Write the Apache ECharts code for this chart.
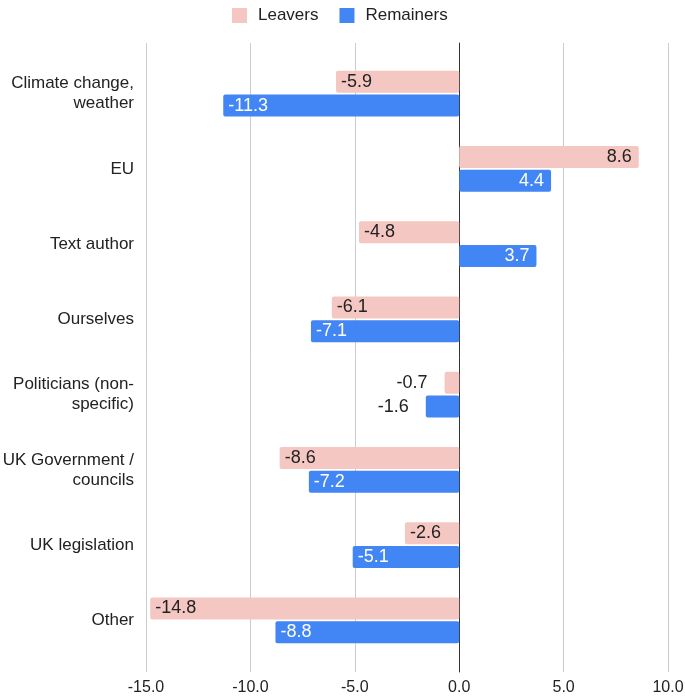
<!DOCTYPE html>
<html><head><meta charset="utf-8">
<script src="https://cdn.jsdelivr.net/npm/echarts@6/dist/echarts.min.js"></script>
<style>html,body{margin:0;padding:0;background:#fff}#c{width:685px;height:696px}</style>
</head><body><div id="c"></div>
<script>
const categories = ["Climate change,\nweather", "EU", "Text author", "Ourselves", "Politicians (non-\nspecific)", "UK Government /\ncouncils", "UK legislation", "Other"];
const leavers = [-5.9, 8.6, -4.8, -6.1, -0.7, -8.6, -2.6, -14.8];
const remainers = [-11.3, 4.4, 3.7, -7.1, -1.6, -7.2, -5.1, -8.8];
const xTicks = [-15, -10, -5, 0, 5, 10];

const FONT = "'Liberation Sans', Arial, sans-serif";
function items(vals, color) {
  return vals.map(v => {
    let pos, dist = 5;
    if (Math.abs(v) < 2) { pos = 'left'; dist = 17; }
    else if (v < 0) { pos = 'insideLeft'; dist = 5; }
    else { pos = 'insideRight'; dist = 7; }
    return { value: v, label: { position: pos, distance: dist, color: Math.abs(v) < 2 ? '#222' : color } };
  });
}
const chart = echarts.init(document.getElementById('c'), null, { renderer: 'canvas' });
chart.setOption({
  animation: false,
  textStyle: { fontFamily: FONT },
  legend: {
    top: 2, left: 227, itemWidth: 15, itemHeight: 15, itemGap: 21,
    icon: 'rect',
    textStyle: { fontFamily: FONT, fontSize: 17, color: '#222', padding: [0, 0, 0, 6] },
    data: ['Leavers', 'Remainers']
  },
  grid: [
    { left: 146, right: 17, top: 43, bottom: 24, containLabel: false, outerBoundsMode: 'none' },
    { left: 146, right: 17, top: 56, bottom: 38, containLabel: false, outerBoundsMode: 'none' }
  ],
  xAxis: [
    { type: 'value', gridIndex: 0, min: xTicks[0], max: xTicks[xTicks.length - 1], interval: 5,
      axisLine: { show: false }, axisTick: { show: false },
      splitLine: { lineStyle: { color: '#cccccc', width: 1 } },
      axisLabel: { fontFamily: FONT, fontSize: 16, color: '#222', margin: 8, formatter: v => v.toFixed(1) } },
    { type: 'value', gridIndex: 1, min: xTicks[0], max: xTicks[xTicks.length - 1], interval: 5,
      show: false }
  ],
  yAxis: [
    { type: 'category', gridIndex: 0, data: ['a'], axisTick: { show: false }, axisLabel: { show: false },
      axisLine: { show: true, onZero: true, lineStyle: { color: '#333', width: 1 } } },
    { type: 'category', gridIndex: 1, data: categories, inverse: true,
      axisLine: { show: false }, axisTick: { show: false },
      axisLabel: { fontFamily: FONT, fontSize: 17, color: '#222', margin: 12, lineHeight: 20 } }
  ],
  series: [
    { name: 'Leavers', type: 'bar', xAxisIndex: 1, yAxisIndex: 1, data: items(leavers, '#222'),
      barWidth: 22, barGap: '9%', itemStyle: { color: '#f4c7c3', borderRadius: 2 },
      label: { show: true, fontFamily: FONT, fontSize: 18, formatter: p => p.value.toFixed(1) } },
    { name: 'Remainers', type: 'bar', xAxisIndex: 1, yAxisIndex: 1, data: items(remainers, '#fff'),
      barWidth: 22, barGap: '9%', itemStyle: { color: '#4285f4', borderRadius: 2 },
      label: { show: true, fontFamily: FONT, fontSize: 18, formatter: p => p.value.toFixed(1) } }
  ]
});
</script></body></html>
